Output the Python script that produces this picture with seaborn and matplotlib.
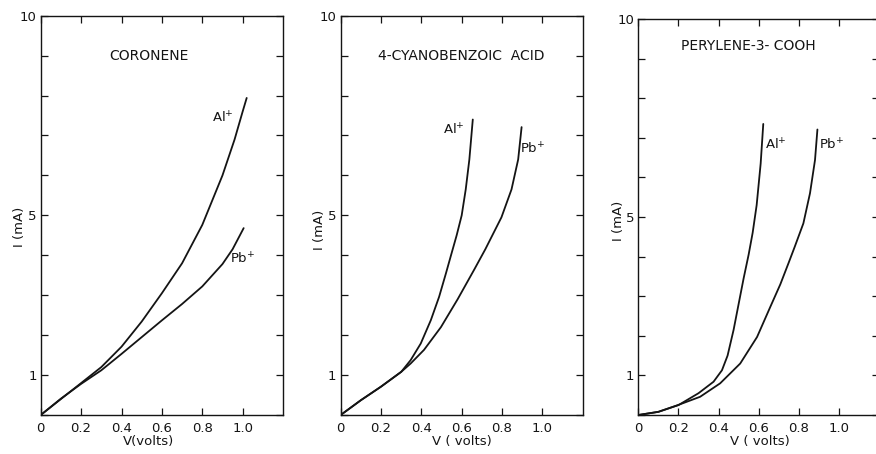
import matplotlib
matplotlib.use("Agg")
import matplotlib.pyplot as plt
import seaborn as sns
import pandas as pd

# ---- data ----
titles = ["CORONENE", "4-CYANOBENZOIC  ACID", "PERYLENE-3- COOH"]

cor_al_v = [0, 0.1, 0.2, 0.3, 0.4, 0.5, 0.6, 0.7, 0.8, 0.9, 0.96, 1.0, 1.02]
cor_al_i = [0, 0.4, 0.8, 1.2, 1.71, 2.34, 3.05, 3.8, 4.76, 6.0, 6.9, 7.6, 7.94]
cor_pb_v = [0, 0.1, 0.2, 0.3, 0.4, 0.5, 0.6, 0.7, 0.8, 0.9, 0.95, 1.005]
cor_pb_i = [0, 0.41, 0.78, 1.12, 1.53, 1.95, 2.37, 2.78, 3.22, 3.78, 4.15, 4.68]

cya_al_v = [0, 0.1, 0.2, 0.3, 0.347, 0.397, 0.447, 0.488, 0.522, 0.547,
            0.575, 0.6, 0.62, 0.638, 0.655]
cya_al_i = [0, 0.37, 0.71, 1.08, 1.375, 1.79, 2.375, 2.96, 3.55, 4.0,
            4.5, 5.0, 5.65, 6.4, 7.4]
cya_pb_v = [0, 0.1, 0.2, 0.3, 0.347, 0.413, 0.497, 0.58, 0.663, 0.717,
            0.797, 0.847, 0.88, 0.897]
cya_pb_i = [0, 0.37, 0.71, 1.08, 1.29, 1.63, 2.2, 2.9, 3.65, 4.15,
            4.95, 5.65, 6.4, 7.21]

per_al_v = [0, 0.1, 0.2, 0.3, 0.375, 0.417, 0.445, 0.475, 0.5, 0.525,
            0.55, 0.57, 0.59, 0.61, 0.623]
per_al_i = [0, 0.08, 0.25, 0.55, 0.84, 1.13, 1.5, 2.15, 2.8, 3.45,
            4.05, 4.6, 5.3, 6.35, 7.35]
per_pb_v = [0, 0.1, 0.197, 0.308, 0.408, 0.508, 0.592, 0.658, 0.708, 0.75,
            0.78, 0.823, 0.856, 0.881, 0.893]
per_pb_i = [0, 0.08, 0.25, 0.46, 0.8, 1.3, 1.97, 2.73, 3.3, 3.85,
            4.25, 4.84, 5.6, 6.44, 7.21]

x_ticks = [0, 0.2, 0.4, 0.6, 0.8, 1.0]
x_tick_labels = ["0", "0.2", "0.4", "0.6", "0.8", "1.0"]
y_ticks = list(range(0, 11))
y_tick_labels = ["", "1", "", "", "", "5", "", "", "", "", "10"]

series = [
    [("Al", cor_al_v, cor_al_i), ("Pb", cor_pb_v, cor_pb_i)],
    [("Al", cya_al_v, cya_al_i), ("Pb", cya_pb_v, cya_pb_i)],
    [("Al", per_al_v, per_al_i), ("Pb", per_pb_v, per_pb_i)],
]

# ---- layout / style ----
sns.set_style("ticks")
plt.rcParams["font.family"] = ["DejaVu Sans"]
plt.rcParams["mathtext.fontset"] = "dejavusans"

ink = "#141414"
fig = plt.figure(figsize=(8.76, 4.54), dpi=100)
fig.patch.set_facecolor("white")

positions = [
    [0.0465, 0.0859, 0.2766, 0.8795],
    [0.3889, 0.0859, 0.2763, 0.8795],
    [0.7287, 0.0859, 0.2747, 0.8722],
]
title_pos = [(0.534, 9.0), (0.60, 9.0), (0.55, 9.32)]
al_pos = [(0.90, 7.44), (0.563, 7.13), (0.688, 6.82)]
pb_pos = [(1.00, 3.90), (0.95, 6.66), (0.966, 6.82)]
xlabels = ["V(volts)", "V ( volts)", "V ( volts)"]
xlabel_x = [0.443, 0.50, 0.506]
ylabel_xy = [(-0.062, 0.47), (-0.062, 0.463), (-0.055, 0.49)]

for k in range(3):
    ax = fig.add_axes(positions[k])
    for name, v, i in series[k]:
        df = pd.DataFrame({"V": v, "I": i})
        sns.lineplot(data=df, x="V", y="I", ax=ax, color=ink, lw=1.3,
                     sort=False, estimator=None)
    ax.set_xlim(0, 1.2)
    ax.set_ylim(0, 10)
    ax.set_xticks(x_ticks)
    ax.set_xticklabels(x_tick_labels, fontsize=9.5)
    ax.set_yticks(y_ticks)
    ax.set_yticklabels(y_tick_labels, fontsize=9.5)
    ax.tick_params(direction="in", length=5, width=0.9, color=ink,
                   labelcolor=ink, top=True, right=True, pad=3)
    ax.tick_params(axis="x", pad=5)
    for s in ax.spines.values():
        s.set_color(ink)
        s.set_linewidth(1.0)
    ax.set_xlabel(xlabels[k], fontsize=9.5, color=ink)
    ax.xaxis.set_label_coords(xlabel_x[k], -0.05)
    ax.set_ylabel("I (mA)", fontsize=9.5, color=ink)
    ax.yaxis.set_label_coords(*ylabel_xy[k])
    ax.text(*title_pos[k], titles[k], ha="center", va="center",
            fontsize=10, color=ink)
    ax.text(*al_pos[k], r"Al$^{+}$", ha="center", va="center",
            fontsize=9.5, color=ink)
    ax.text(*pb_pos[k], r"Pb$^{+}$", ha="center", va="center",
            fontsize=9.5, color=ink)

fig.savefig("out.png", dpi=100, facecolor="white")
